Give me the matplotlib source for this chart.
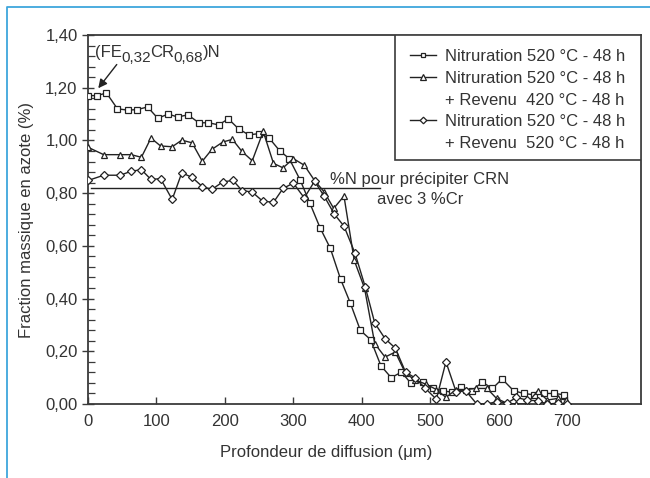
import matplotlib
matplotlib.use("Agg")
import matplotlib.pyplot as plt
from matplotlib.lines import Line2D
from matplotlib.patches import Rectangle
from matplotlib.ticker import MultipleLocator, FuncFormatter
from matplotlib.transforms import offset_copy

plt.rcParams['font.family'] = ['Liberation Sans', 'DejaVu Sans']

# ---- data ----
x_nit = [0, 13, 27, 43, 58, 72, 87, 102, 117, 131, 146, 162, 176, 191, 205, 220, 235, 250,
         264, 280, 294, 310, 324, 339, 354, 369, 383, 398, 413, 428, 443, 458, 472, 489,
         504, 518, 532, 545, 561, 576, 591, 605, 622, 637, 651, 666, 681, 696]
y_nit = [1.17, 1.17, 1.18, 1.12, 1.115, 1.117, 1.127, 1.084, 1.10, 1.089, 1.097, 1.067,
         1.067, 1.059, 1.082, 1.044, 1.021, 1.026, 1.011, 0.961, 0.931, 0.850, 0.763,
         0.669, 0.591, 0.474, 0.385, 0.279, 0.244, 0.145, 0.100, 0.121, 0.078, 0.085,
         0.060, 0.050, 0.045, 0.063, 0.050, 0.083, 0.059, 0.095, 0.050, 0.040, 0.035,
         0.040, 0.040, 0.035]

x_rev420 = [0, 23, 47, 63, 78, 92, 106, 123, 137, 152, 167, 181, 197, 211, 225, 240, 256,
            271, 285, 300, 316, 331, 345, 359, 374, 389, 404, 419, 434, 449, 464, 478, 494,
            509, 523, 538, 552, 567, 583, 597, 612, 626, 641, 657, 671, 686, 699]
y_rev420 = [0.974, 0.946, 0.946, 0.946, 0.936, 1.009, 0.979, 0.976, 1.001, 0.991, 0.921,
            0.966, 0.994, 1.004, 0.958, 0.923, 1.034, 0.913, 0.896, 0.931, 0.906, 0.848,
            0.805, 0.742, 0.789, 0.545, 0.440, 0.229, 0.178, 0.197, 0.116, 0.091, 0.075,
            0.055, 0.025, 0.055, 0.055, 0.059, 0.059, 0.021, 0.003, 0.0, 0.0, 0.050,
            0.015, 0.021, 0.015]

x_rev520 = [0, 23, 47, 63, 78, 92, 106, 123, 137, 152, 167, 181, 197, 212, 225, 240, 255,
            271, 285, 300, 316, 331, 345, 360, 374, 390, 405, 419, 434, 449, 464, 478, 493,
            509, 523, 538, 552, 568, 583, 597, 612, 626, 641, 657, 671, 686, 700]
y_rev520 = [0.848, 0.868, 0.868, 0.883, 0.889, 0.852, 0.855, 0.776, 0.877, 0.860, 0.825,
            0.814, 0.843, 0.848, 0.810, 0.804, 0.770, 0.765, 0.818, 0.838, 0.782, 0.845,
            0.789, 0.720, 0.675, 0.573, 0.445, 0.307, 0.248, 0.212, 0.121, 0.099, 0.059,
            0.018, 0.160, 0.045, 0.050, 0.0, 0.0, 0.009, 0.003, 0.025, 0.015, 0.012, 0.0,
            0.003, 0.0]

labels = ["Nitruration 520 °C - 48 h",
          "Nitruration 520 °C - 48 h\n+ Revenu  420 °C - 48 h",
          "Nitruration 520 °C - 48 h\n+ Revenu  520 °C - 48 h"]
markers = ['s', '^', 'D']

threshold = 0.82
threshold_x = [5, 427]
threshold_text = "%N pour précipiter CRN\navec 3 %Cr"
# phase label pieces: (text, is_subscript)
phase_pieces = [("(FE", False), ("0,32", True), ("CR", False), ("0,68", True), (")N", False)]
x_ticks = [0, 100, 200, 300, 400, 500, 600, 700]

# ---- figure ----
fig = plt.figure(figsize=(6.5, 4.78), dpi=100)
ax = fig.add_axes([88/650, 1-404/478, (641-88)/650, (404-35)/478])

ink = '#222222'
txt_c = '#333333'
series = [(x_nit, y_nit), (x_rev420, y_rev420), (x_rev520, y_rev520)]
msizes = [4.4, 5.0, 4.2]
for (xs, ys), m, ms in zip(series, markers, msizes):
    ax.plot(xs, ys, color=ink, lw=1.0, marker=m, ms=ms, mfc='white', mec=ink, mew=0.9,
            zorder=3)

ax.plot(threshold_x, [threshold, threshold], color=ink, lw=1.0, zorder=2)
ax.text(485, 0.815, threshold_text, ha='center', va='center', fontsize=12,
        color=txt_c, linespacing=1.42, multialignment='center')

ax.set_xlim(0, 808)
ax.set_ylim(0, 1.40)
ax.set_xticks(x_ticks)
ax.yaxis.set_major_locator(MultipleLocator(0.2))
ax.yaxis.set_minor_locator(MultipleLocator(0.04))
ax.yaxis.set_major_formatter(FuncFormatter(lambda v, p: f"{v:.2f}".replace('.', ',')))

spine_c = '#3a3a3a'
for s in ax.spines.values():
    s.set_color(spine_c)
    s.set_linewidth(1.3)
ax.tick_params(axis='x', direction='in', length=5, width=1.0, color=spine_c, pad=7,
               labelsize=12, labelcolor=txt_c)
ax.tick_params(axis='y', which='major', direction='inout', length=9, width=1.0,
               color=spine_c, pad=3, labelsize=12, labelcolor=txt_c)
ax.tick_params(axis='y', which='minor', direction='in', length=5, width=0.9,
               color=spine_c)

ax.set_xlabel("Profondeur de diffusion (μm)", fontsize=12, color=txt_c)
ax.set_ylabel("Fraction massique en azote (%)", fontsize=12, color=txt_c)
ax.xaxis.set_label_coords(0.430, -0.112)
ax.yaxis.set_label_coords(-0.098, 0.5)

# ---- phase label with near full-size subscripts ----
renderer = fig.canvas.get_renderer()
dx = 0.0
for piece, sub in phase_pieces:
    tr = offset_copy(ax.transData, fig=fig, x=dx, y=(-5 if sub else 0), units='dots')
    t = ax.text(10, 1.318, piece, transform=tr, ha='left', va='baseline',
                fontsize=(11 if sub else 12), color=txt_c)
    dx += t.get_window_extent(renderer).width - 0.5
ax.annotate('', xy=(15, 1.198), xytext=(42, 1.288),
            arrowprops=dict(arrowstyle='-|>', color=ink, lw=1.0, mutation_scale=13,
                            shrinkA=0, shrinkB=0))

# ---- manual legend (handle aligned with first line) ----
lx0 = (395-88)/553
ly0 = (404-160)/369
ax.add_patch(Rectangle((lx0, ly0), 1-lx0, 1-ly0, transform=ax.transAxes, fill=True,
                       facecolor='white', edgecolor=spine_c, lw=1.2, zorder=5))
row_y = [(404-55)/369, (404-77)/369, (404-120)/369]
hx0, hx1, hm = (410-88)/553, (436-88)/553, (423-88)/553
tx = (445-88)/553
for yy, m, ms, lab in zip(row_y, markers, msizes, labels):
    ax.add_line(Line2D([hx0, hx1], [yy, yy], transform=ax.transAxes, color=ink, lw=1.0,
                       zorder=6, clip_on=False))
    ax.add_line(Line2D([hm], [yy], transform=ax.transAxes, marker=m, ms=ms*0.8,
                       mfc='white', mec=ink, mew=0.9, zorder=7, clip_on=False))
    ax.text(tx, yy + 6.0/369, lab, transform=ax.transAxes, ha='left', va='top',
            fontsize=12, color=txt_c, linespacing=1.58, zorder=7)

# light blue frame
fig.add_artist(Line2D([7/650, 7/650, 1.0], [0.0, 1-7/478, 1-7/478],
                      transform=fig.transFigure, color='#3ea6dc', lw=1.3))

fig.savefig("out.png", dpi=100)
